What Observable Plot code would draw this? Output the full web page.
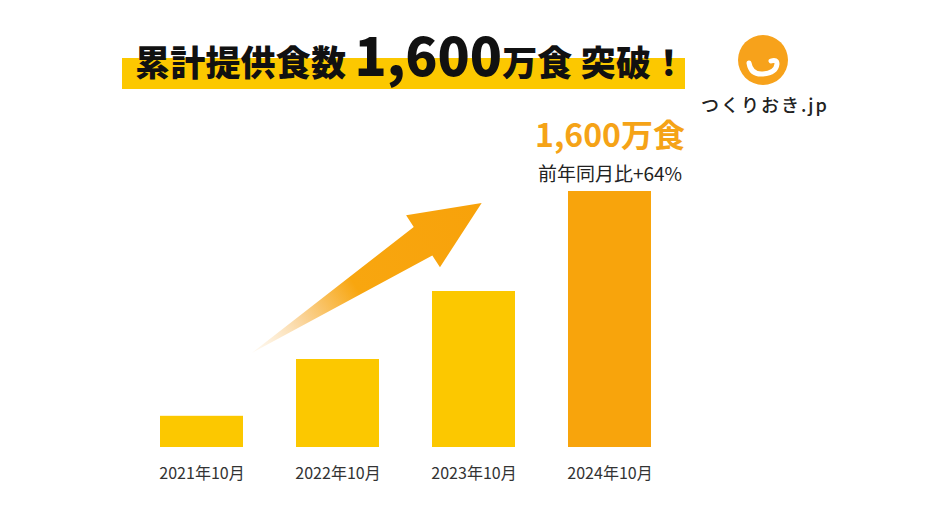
<!DOCTYPE html>
<html><head><meta charset="utf-8">
<script src="https://cdn.jsdelivr.net/npm/d3@7"></script>
<script src="https://cdn.jsdelivr.net/npm/@observablehq/plot@0.6"></script>
<style>
body{margin:0;background:#fff;font-family:"Noto Sans CJK JP","Noto Sans",sans-serif;}
#wrap{position:relative;width:934px;height:525px;overflow:hidden;background:#fff}
#chart{position:absolute;left:0;top:0}
.band{position:absolute;left:122px;top:58px;width:563px;height:31px;background:#FCC800}
.title{position:absolute;left:135px;top:27px;white-space:nowrap;color:#111;font-weight:900;font-size:35px;line-height:52px;letter-spacing:0.2px}
.title .num{font-size:53px;letter-spacing:0}
.logo{position:absolute;left:738px;top:35px}
.brand{position:absolute;left:701px;top:95px;font-size:18px;line-height:18px;letter-spacing:2px;color:#222;font-weight:500;white-space:nowrap}
</style></head><body>
<div id="wrap">
  <div id="chart"></div>
  <div class="band"></div>
  <div class="title">累計提供食数 <span class="num">1,600</span>万食 突破！</div>
  <svg class="logo" width="52" height="52" viewBox="0 0 52 52">
    <circle cx="25" cy="25" r="25" fill="#F7A21B"/>
    <path d="M11,28 Q13,40 25,39 Q38,38 39,29 Q39,24 33,26" fill="none" stroke="#fff" stroke-width="5" stroke-linecap="round"/>
  </svg>
  <div class="brand">つくりおき.jp</div>
</div>
<script>
// 累計提供食数（万食）
const months = ["2021年10月", "2022年10月", "2023年10月", "2024年10月"];
const meals = [195, 550, 975, 1600];
const growthLabel = "前年同月比+64%";
// arrow (decorative) in chart terms: position in bar steps from first bar, value in 万食
const arrowTail = {pos: 0.37, value: 588};
const arrowHead = {pos: 2.06, value: 1525};

const data = months.map((m, i) => ({month: m, value: meals[i]}));
const last = data[data.length - 1];

const yellow = "#FCC800", orange = "#F8A40C";

function arrowMark(index, scales) {
  const x = scales.x, y = scales.y;
  const step = x(months[1]) - x(months[0]);
  const bw = typeof x.bandwidth === "function" ? x.bandwidth() : x.bandwidth;
  const px = p => x(months[0]) + bw / 2 + p * step;
  const T = [px(arrowTail.pos), y(arrowTail.value)];
  const H = [px(arrowHead.pos), y(arrowHead.value)];
  const dx = H[0] - T[0], dy = H[1] - T[1], L = Math.hypot(dx, dy);
  const u = [dx / L, dy / L], n = [-u[1], u[0]];
  const headLen = 70, headHalf = 31, shaftHalf = 17;
  const B = [H[0] - headLen * u[0], H[1] - headLen * u[1]];
  const pt = (p, k) => [p[0] + k * n[0], p[1] + k * n[1]];
  const pts = [T, pt(B, shaftHalf), pt(B, headHalf), H, pt(B, -headHalf), pt(B, -shaftHalf)];
  const g = d3.create("svg:g");
  const grad = g.append("defs").append("linearGradient")
    .attr("id", "arrowGrad").attr("gradientUnits", "userSpaceOnUse")
    .attr("x1", T[0]).attr("y1", T[1]).attr("x2", H[0]).attr("y2", H[1]);
  grad.append("stop").attr("offset", 0).attr("stop-color", "#FDF0DC").attr("stop-opacity", 0.4);
  grad.append("stop").attr("offset", 0.22).attr("stop-color", "#FAD49A");
  grad.append("stop").attr("offset", 0.45).attr("stop-color", "#F8A60F");
  grad.append("stop").attr("offset", 1).attr("stop-color", "#F8A20A");
  g.append("polygon").attr("points", pts.map(p => p.join(",")).join(" ")).attr("fill", "url(#arrowGrad)");
  return g.node();
}

const chart = Plot.plot({
  width: 934,
  height: 525,
  marginLeft: 105,
  marginRight: 229,
  marginTop: 191,
  marginBottom: 78,
  style: {fontFamily: '"Noto Sans CJK JP", "Noto Sans", sans-serif', background: "#fff"},
  x: {domain: months, padding: 0.39, axis: null},
  y: {domain: [0, 1600], axis: null},
  marks: [
    arrowMark,
    Plot.barY(data, {x: "month", y: "value", fill: d => d === last ? orange : yellow}),
    Plot.axisX({tickSize: 0, tickPadding: 20, fontSize: 16, fill: "#333", label: null}),
    Plot.text([last], {x: "month", y: "value", text: d => d3.format(",")(d.value) + "万食",
      dy: -55, fill: "#F5A317", fontSize: 32, fontWeight: 700}),
    Plot.text([last], {x: "month", y: "value", text: () => growthLabel,
      dy: -17, fill: "#222", fontSize: 19})
  ]
});
document.getElementById("chart").append(chart);
</script>
</body></html>
